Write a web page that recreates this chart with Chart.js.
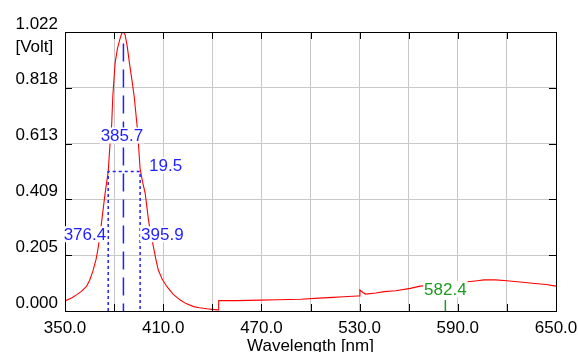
<!DOCTYPE html>
<html>
<head>
<meta charset="utf-8">
<script src="https://cdn.jsdelivr.net/npm/chart.js@4.4.1/dist/chart.umd.min.js"></script>
<style>
  html, body { margin: 0; padding: 0; background: #fff; }
  canvas { display: block; }
</style>
</head>
<body>
<canvas id="spectrum" width="578" height="352"></canvas>
<script>
// spectrum
const wavelength = [350, 354, 357, 360, 363, 365, 367, 369, 370.5, 372.5, 374.5, 376.4, 377.6, 378.5, 379.2,
  380.6, 382, 383.5, 384.7, 385.7, 386.7, 388, 389.4, 390.8, 392.3, 394.3, 395.9, 397.5, 399, 401, 402.5,
  404, 405.5, 407, 409.5, 412.3, 416, 420.4, 424, 428.6, 432, 436.8, 440, 443.5, 443.9, 455, 469.4, 480,
  494, 505, 514, 520, 528.6, 529.8, 530.2, 532, 533.7, 540, 545, 552, 561, 567, 575, 582, 589, 596, 602,
  606, 613, 620, 628, 637, 644, 649, 650];
const volt = [0.037, 0.048, 0.059, 0.072, 0.089, 0.112, 0.145, 0.19, 0.24, 0.333, 0.431, 0.511, 0.62, 0.68, 0.785,
  0.907, 0.96, 0.995, 1.018, 1.022, 1.012, 0.97, 0.907, 0.85, 0.785, 0.663, 0.52, 0.47, 0.431, 0.333, 0.28,
  0.236, 0.19, 0.15, 0.115, 0.089, 0.062, 0.040, 0.027, 0.016, 0.012, 0.008, 0.006, 0.004, 0.038, 0.038, 0.040, 0.041,
  0.043, 0.047, 0.050, 0.052, 0.055, 0.055, 0.077, 0.068, 0.062, 0.066, 0.071, 0.074, 0.083, 0.091, 0.095, 0.099, 0.103, 0.107, 0.111,
  0.114, 0.114, 0.111, 0.106, 0.101, 0.097, 0.092, 0.091];

// peak / FWHM markers and the green cursor
const peakX = 385.7, peakLineTop = 0.98;
const leftX = 376.4, rightX = 395.9, halfY = 0.511, fwhm = 19.5;
const cursorX = 582.4, cursorTop = 0.04;

const xMin = 350, xMax = 650, xStep = 30;
const xTickLabels = ['350.0', '410.0', '470.0', '530.0', '590.0', '650.0'];
const yMax = 1.022;
const yTickLabels = ['0.000', '0.205', '0.409', '0.613', '0.818', '1.022'];

const FONT = { family: '"Liberation Sans", Arial, sans-serif', size: 17 };
const BLUE = '#1f1fff';
const GREEN = '#1e9a1e';

const frameAndLabels = {
  id: 'frameAndLabels',
  afterDatasetsDraw(chart) {
    const { ctx, chartArea: a, scales: { x, y } } = chart;
    ctx.save();
    ctx.strokeStyle = '#000';
    ctx.lineWidth = 1;
    ctx.beginPath();
    x.ticks.forEach(t => {
      const px = Math.round(x.getPixelForValue(t.value)) + 0.5;
      ctx.moveTo(px, a.top); ctx.lineTo(px, a.top + 7);
      ctx.moveTo(px, a.bottom); ctx.lineTo(px, a.bottom - 7);
    });
    y.ticks.forEach(t => {
      const py = Math.round(y.getPixelForValue(t.value)) + 0.5;
      ctx.moveTo(a.left, py); ctx.lineTo(a.left + 7, py);
      ctx.moveTo(a.right, py); ctx.lineTo(a.right - 7, py);
    });
    ctx.stroke();
    ctx.strokeRect(Math.round(a.left) + 0.5, Math.round(a.top) + 0.5,
      Math.round(a.right - a.left), Math.round(a.bottom - a.top));

    ctx.font = FONT.size + 'px ' + FONT.family;
    ctx.textBaseline = 'middle';
    const label = (text, px, py, align, color) => {
      const w = ctx.measureText(text).width;
      const x0 = align === 'left' ? px : align === 'right' ? px - w : px - w / 2;
      ctx.fillStyle = '#fff';
      ctx.fillRect(x0 - 1, py - 8, w + 2, 16);
      ctx.fillStyle = color;
      ctx.textAlign = 'left';
      ctx.fillText(text, x0, py + 1);
    };
    const halfPx = y.getPixelForValue(halfY);
    const lowPx = y.getPixelForValue(halfY / 2) - 7;
    label(peakX.toFixed(1), x.getPixelForValue(peakX) - 1.5, halfPx - 36, 'center', BLUE);
    label(fwhm.toFixed(1), x.getPixelForValue(rightX) + 9, halfPx - 6, 'left', BLUE);
    label(leftX.toFixed(1), x.getPixelForValue(leftX) - 2, lowPx, 'right', BLUE);
    label(rightX.toFixed(1), x.getPixelForValue(rightX) + 1, lowPx, 'left', BLUE);
    label(cursorX.toFixed(1), x.getPixelForValue(cursorX), y.getPixelForValue(cursorTop) - 11, 'center', GREEN);

    // [Volt] under the top tick label
    ctx.fillStyle = '#000';
    ctx.textAlign = 'left';
    const lx = a.left - 7 - ctx.measureText(yTickLabels[yTickLabels.length - 1]).width;
    ctx.fillText('[Volt]', lx, a.top + 15);
    ctx.restore();
  }
};

new Chart(document.getElementById('spectrum'), {
  type: 'line',
  data: {
    datasets: [{
      label: 'spectrum',
      data: wavelength.map((w, i) => ({ x: w, y: volt[i] })),
      borderColor: '#ff0000',
      borderWidth: 1.1,
      pointRadius: 0,
      tension: 0,
      order: 1
    }, {
      label: 'peak',
      data: [{ x: peakX, y: peakLineTop }, { x: peakX, y: 0 }],
      borderColor: BLUE,
      borderWidth: 1.5,
      borderDash: [18, 8],
      pointRadius: 0,
      order: 0
    }, {
      label: 'fwhm',
      data: [{ x: leftX, y: 0 }, { x: leftX, y: halfY }, { x: rightX, y: halfY }, { x: rightX, y: 0 }],
      borderColor: BLUE,
      borderWidth: 1.5,
      borderDash: [3, 3],
      pointRadius: 0,
      order: 0
    }, {
      label: 'cursor',
      data: [{ x: cursorX, y: 0 }, { x: cursorX, y: cursorTop }],
      borderColor: GREEN,
      borderWidth: 1.5,
      pointRadius: 0,
      order: 0
    }]
  },
  options: {
    responsive: false,
    animation: false,
    devicePixelRatio: 1,
    layout: { padding: { left: 0, top: 32, right: 22, bottom: 0 } },
    plugins: { legend: { display: false }, tooltip: { enabled: false } },
    scales: {
      x: {
        type: 'linear',
        min: xMin,
        max: xMax,
        grid: { color: '#c8c8c8', lineWidth: 1, drawTicks: false },
        border: { display: false },
        ticks: {
          stepSize: xStep,
          autoSkip: false,
          maxRotation: 0,
          padding: 7,
          color: '#000',
          font: FONT,
          callback: v => (xTickLabels.includes(v.toFixed(1)) ? v.toFixed(1) : '')
        },
        title: { display: true, text: 'Wavelength [nm]', color: '#000', font: FONT, padding: { top: 0, bottom: -5 } },
        afterFit: s => { s.height = 41; s.paddingLeft = 0; s.paddingRight = 0; }
      },
      y: {
        min: 0,
        max: yMax,
        grid: { color: '#c8c8c8', lineWidth: 1, drawTicks: false },
        border: { display: false },
        afterBuildTicks: s => { s.ticks = yTickLabels.map((t, i) => ({ value: i * yMax / (yTickLabels.length - 1) })); },
        ticks: {
          padding: 7,
          labelOffset: -8,
          color: '#000',
          font: FONT,
          callback: (v, i) => yTickLabels[i]
        },
        afterFit: s => { s.width = 65; s.paddingTop = 0; s.paddingBottom = 0; }
      }
    }
  },
  plugins: [frameAndLabels]
});
</script>
</body>
</html>
